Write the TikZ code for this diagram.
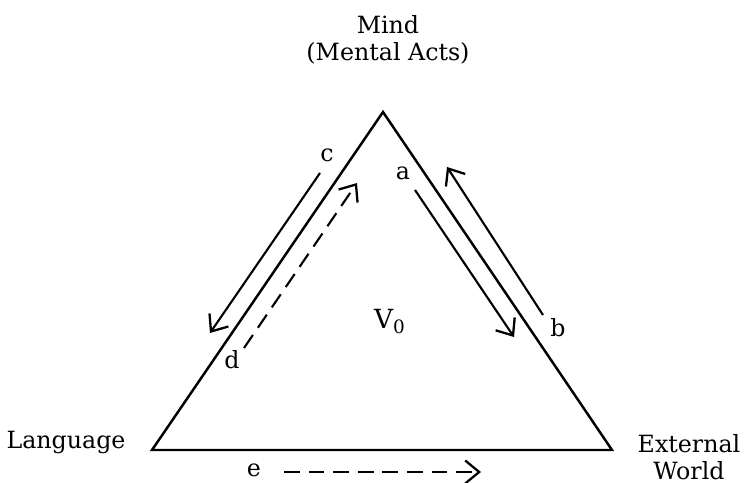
\documentclass[tikz,border=0pt]{standalone}
\usepackage{fontspec}
\setmainfont{DejaVu Serif}
\usepackage{tikz}
\usetikzlibrary{arrows.meta}

\begin{document}
\begin{tikzpicture}[
  x=0.02cm, y=-0.02cm,
  font=\fontsize{13.5}{15.2}\selectfont,
  side/.style={line width=1.4pt, line join=miter},
  arrow/.style={-{Straight Barb[length=2.8mm, width=4.6mm, line width=1.3pt]}, line width=1.2pt},
  dasharrow/.style={arrow, dash pattern=on 9pt off 5pt},
  corner/.style={align=center, inner sep=1pt},
  tag/.style={inner sep=1pt},
]
  \useasboundingbox (0,0) rectangle (748,483);

  % triangle
  \coordinate (mindpt) at (383,112);
  \coordinate (langpt) at (152,450);
  \coordinate (worldpt) at (612,450);
  \draw[side] (mindpt) -- (langpt) -- (worldpt) -- cycle;

  % corner labels
  \node[corner] (mind) at (388,40) {Mind\\(Mental Acts)};
  \node[corner, anchor=base] (lang) at (66,448) {Language};
  \node[corner] (world) at (689,457) {External\\World};
  \node[font=\fontsize{15}{17}\selectfont] (v0) at (390,322) {V\textsubscript{0}};

  % left side arrows
  \coordinate (cstart) at (320,173);
  \coordinate (cend) at (210,333);
  \draw[arrow] (cstart) -- (cend);
  \coordinate (dstart) at (244,348);
  \coordinate (dend) at (357,183);
  \draw[dasharrow] (dstart) -- (dend);
  \node[tag] (c) at (327,155) {c};
  \node[tag] (d) at (232,360) {d};

  % right side arrows
  \coordinate (astart) at (415,190);
  \coordinate (aend) at (514,337);
  \draw[arrow] (astart) -- (aend);
  \coordinate (bstart) at (543,315);
  \coordinate (bend) at (447,167);
  \draw[arrow] (bstart) -- (bend);
  \node[tag] (a) at (403,173) {a};
  \node[tag] (b) at (558,328) {b};

  % bottom arrow
  \coordinate (estart) at (284,472);
  \coordinate (eend) at (481,472);
  \draw[dasharrow] (estart) -- (eend);
  \node[tag] (e) at (254,470) {e};
\end{tikzpicture}
\end{document}
